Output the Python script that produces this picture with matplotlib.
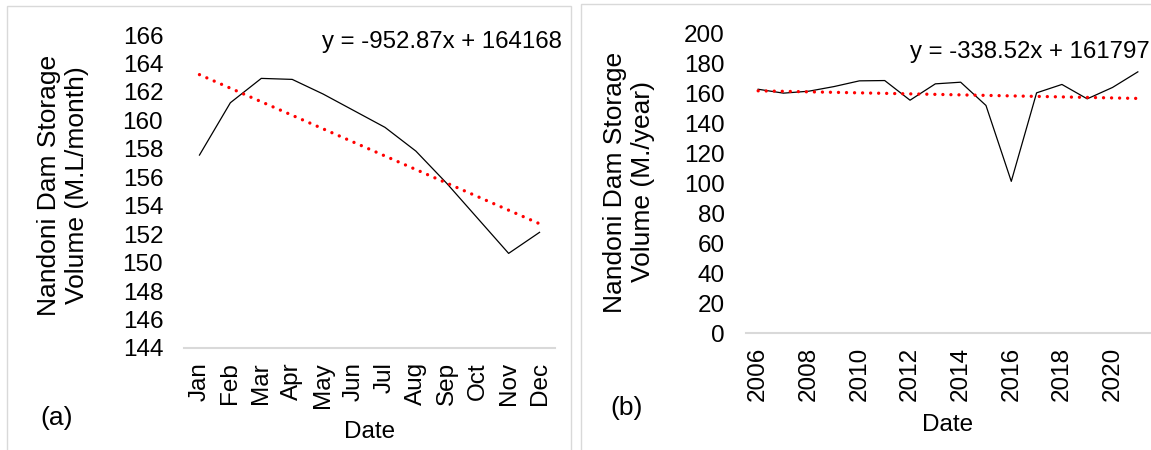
import numpy as np
import matplotlib
matplotlib.use("Agg")
import matplotlib.pyplot as plt
from matplotlib.patches import Rectangle

plt.rcParams['font.family'] = ['Liberation Sans', 'DejaVu Sans']

# monthly storage (M.L/month)
months = ['Jan', 'Feb', 'Mar', 'Apr', 'May', 'Jun',
          'Jul', 'Aug', 'Sep', 'Oct', 'Nov', 'Dec']
monthly_volume = [157.56, 161.24, 162.95, 162.88, 161.85, 160.68,
                  159.51, 157.84, 155.57, 153.11, 150.65, 152.13]
monthly_slope, monthly_intercept = -952.87, 164168

# yearly storage (M./year)
years = list(range(2006, 2022))
yearly_volume = [162.5, 159.9, 161.2, 164.3, 168.1, 168.3, 155.2, 166.1,
                 167.2, 151.7, 101.1, 160.1, 165.7, 156.1, 163.7, 174.1]
yearly_slope, yearly_intercept = -338.52, 161797

W, H = 1151, 450
fig = plt.figure(figsize=(W / 100, H / 100), dpi=100)


def box(x0, y0, x1, y1):
    # pixel box (top-left origin) -> figure fraction rect
    return [x0 / W, 1 - y1 / H, (x1 - x0) / W, (y1 - y0) / H]


def fx(x):
    return x / W


def fy(y):
    return 1 - y / H


grey = '#d9d9d9'
for x0, y0, x1, y1 in [(6.5, 5.5, 571, 470), (580.5, 3.5, 1170, 470)]:
    fig.add_artist(Rectangle((fx(x0), fy(y1)), fx(x1 - x0), (y1 - y0) / H,
                             transform=fig.transFigure, fill=False,
                             edgecolor=grey, linewidth=1.0))


def style(ax):
    for s in ['top', 'right', 'left']:
        ax.spines[s].set_visible(False)
    ax.spines['bottom'].set_color(grey)
    ax.spines['bottom'].set_linewidth(1.5)
    ax.tick_params(length=0, labelsize=17.5)
    ax.tick_params(axis='y', pad=15)
    ax.tick_params(axis='x', pad=10, labelrotation=90)
    ax.patch.set_alpha(0)


trend_kw = dict(color='#ff0000', linewidth=2.4, linestyle=(0, (0.01, 2.4)),
                dash_capstyle='round')

# (a) monthly
ax1 = fig.add_axes(box(184, 35, 555, 348))
style(ax1)
mx = np.arange(1, len(months) + 1)
ax1.plot(mx, monthly_volume, color='black', linewidth=0.9)
ax1.plot(mx, (monthly_slope * mx + monthly_intercept) / 1000, **trend_kw)
ax1.set_xlim(0.5, 12.5)
ax1.set_ylim(144, 166)
ax1.set_yticks(range(144, 167, 2))
ax1.set_xticks(mx)
ax1.set_xticklabels(months)

# (b) yearly
ax2 = fig.add_axes(box(745.5, 33, 1150.5, 333))
style(ax2)
yx = np.arange(1, len(years) + 1)
ax2.plot(years, yearly_volume, color='black', linewidth=0.9)
ax2.plot(years, (yearly_slope * yx + yearly_intercept) / 1000, **trend_kw)
ax2.set_xlim(2005.5, 2021.5)
ax2.set_ylim(0, 200)
ax2.set_yticks(range(0, 201, 20))
ax2.set_xticks(years[::2])

# labels
fig.text(fx(63), fy(185), 'Nandoni Dam Storage\nVolume (M.L/month)',
         rotation=90, ha='center', va='center', fontsize=19,
         multialignment='center', linespacing=1.2)
fig.text(fx(629), fy(182), 'Nandoni Dam Storage\nVolume (M./year)',
         rotation=90, ha='center', va='center', fontsize=19,
         multialignment='center', linespacing=1.2)
fig.text(fx(370), fy(432), 'Date', ha='center', va='center', fontsize=17.5)
fig.text(fx(948), fy(425), 'Date', ha='center', va='center', fontsize=17.5)
fig.text(fx(57), fy(418), '(a)', ha='center', va='center', fontsize=19)
fig.text(fx(627), fy(408), '(b)', ha='center', va='center', fontsize=19)
fig.text(fx(562), fy(42), 'y = -952.87x + 164168', ha='right', va='center',
         fontsize=17.3)
fig.text(fx(1150), fy(52), 'y = -338.52x + 161797', ha='right', va='center',
         fontsize=17.3)

fig.savefig('out.png', dpi=100)
